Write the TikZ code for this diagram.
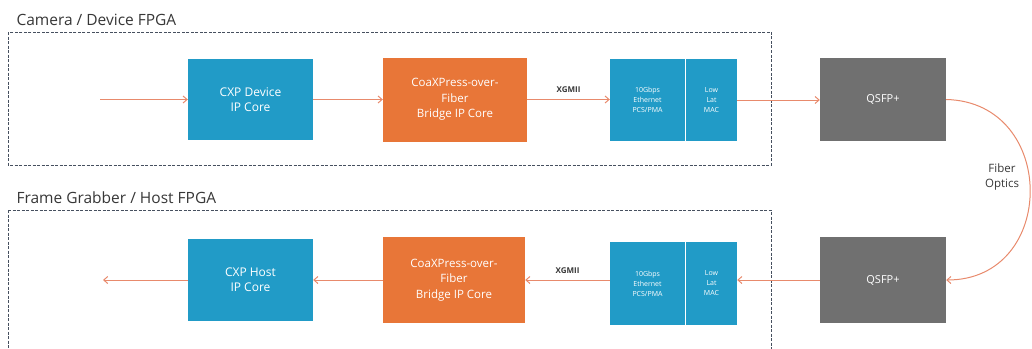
\documentclass[tikz,border=0pt]{standalone}
\usepackage{fontspec}
\setmainfont{Open Sans}
\usetikzlibrary{arrows.meta}

\definecolor{cxpblue}{RGB}{33,155,199}
\definecolor{cxporange}{RGB}{232,118,56}
\definecolor{cxpgray}{RGB}{112,112,112}
\definecolor{cxpline}{RGB}{232,138,108}
\definecolor{cxptext}{RGB}{55,55,55}
\definecolor{cxpdash}{RGB}{70,80,95}

\tikzset{
  core/.style={fill=cxpblue, text=white, align=center, inner sep=0pt, font=\fontsize{12}{15}\selectfont},
  bridge/.style={fill=cxporange, text=white, align=center, inner sep=0pt, font=\fontsize{11.5}{15.5}\selectfont},
  phy/.style={fill=cxpblue, text=white, align=center, inner sep=0pt, font=\fontsize{7}{10}\selectfont},
  optic/.style={fill=cxpgray, text=white, align=center, inner sep=0pt, font=\fontsize{11}{14}\selectfont},
  fpga/.style={draw=cxpdash, dash pattern=on 3pt off 1.5pt, line width=0.6pt},
  flow/.style={draw=cxpline, line width=1pt, -{Straight Barb[length=4pt,width=7pt]}},
  caption/.style={text=cxptext, anchor=base west, font=\fontsize{15.5}{18}\selectfont},
  bus/.style={text=cxptext, font=\bfseries\fontsize{8}{10}\selectfont}
}

\begin{document}
\begin{tikzpicture}[x=1pt, y=-1pt]
  % Marco de la figura
  \useasboundingbox (0,0) rectangle (1032,348);

  % Cajas de las FPGA
  \draw[fpga] (8,32) rectangle (771,165);
  \draw[fpga] (8,210) -- (771,210) -- (771,352);
  \draw[fpga] (8,210) -- (8,352);

  % Titulos de las FPGA
  \node[caption] (devtitle) at (13,25) {Camera / Device FPGA};
  \node[caption] (hosttitle) at (13,203) {Frame Grabber / Host FPGA};

  % Cadena de la camara
  \coordinate (devin) at (100,99.5);
  \node[core, minimum width=125pt, minimum height=81pt] (cxpdev) at (250.5,99.5) {CXP Device\\IP Core};
  \node[bridge, minimum width=144pt, minimum height=84pt] (bridgedev) at (455,99.5) {CoaXPress-over-\\Fiber\\Bridge IP Core};
  \node[phy, minimum width=75pt, minimum height=82pt] (pcsdev) at (647.5,100) {10Gbps\\Ethernet\\PCS/PMA};
  \node[phy, minimum width=51pt, minimum height=82pt] (macdev) at (711.5,100) {Low\\Lat\\MAC};
  \node[optic, minimum width=126pt, minimum height=83pt] (qsfpdev) at (883,99.5) {QSFP+};

  % Cadena del host
  \coordinate (hostout) at (103,280);
  \node[core, minimum width=125pt, minimum height=82pt] (cxphost) at (250.5,280) {CXP Host\\IP Core};
  \node[bridge, minimum width=142pt, minimum height=86pt] (bridgehost) at (454,280) {CoaXPress-over-\\Fiber\\Bridge IP Core};
  \node[phy, minimum width=75pt, minimum height=83pt] (pcshost) at (647.5,283.5) {10Gbps\\Ethernet\\PCS/PMA};
  \node[phy, minimum width=51pt, minimum height=83pt] (machost) at (711.5,283.5) {Low\\Lat\\MAC};
  \node[optic, minimum width=126pt, minimum height=86pt] (qsfphost) at (883,280) {QSFP+};

  % Flechas hacia la derecha
  \draw[flow] (devin) -- (cxpdev.west);
  \draw[flow] (cxpdev.east) -- (bridgedev.west);
  \draw[flow] (bridgedev.east) -- node[bus, above=3pt] (xgmiidev) {XGMII} (pcsdev.west |- bridgedev.east);
  \draw[flow] (macdev.east) -- (qsfpdev.west |- macdev.east);

  % Fibra optica
  \draw[flow] (qsfpdev.east) .. controls (1058,102) and (1058,280) .. (qsfphost.east);
  \node[text=cxptext, align=center, font=\fontsize{11.5}{15}\selectfont] (fiber) at (1002,177) {Fiber\\Optics};

  % Flechas hacia la izquierda
  \draw[flow] (qsfphost.west) -- (machost.east |- qsfphost.west);
  \draw[flow] (pcshost.west |- bridgehost.east) -- node[bus, above=3pt] (xgmiihost) {XGMII} (bridgehost.east);
  \draw[flow] (bridgehost.west) -- (cxphost.east);
  \draw[flow] (cxphost.west) -- (hostout);

\end{tikzpicture}
\end{document}
